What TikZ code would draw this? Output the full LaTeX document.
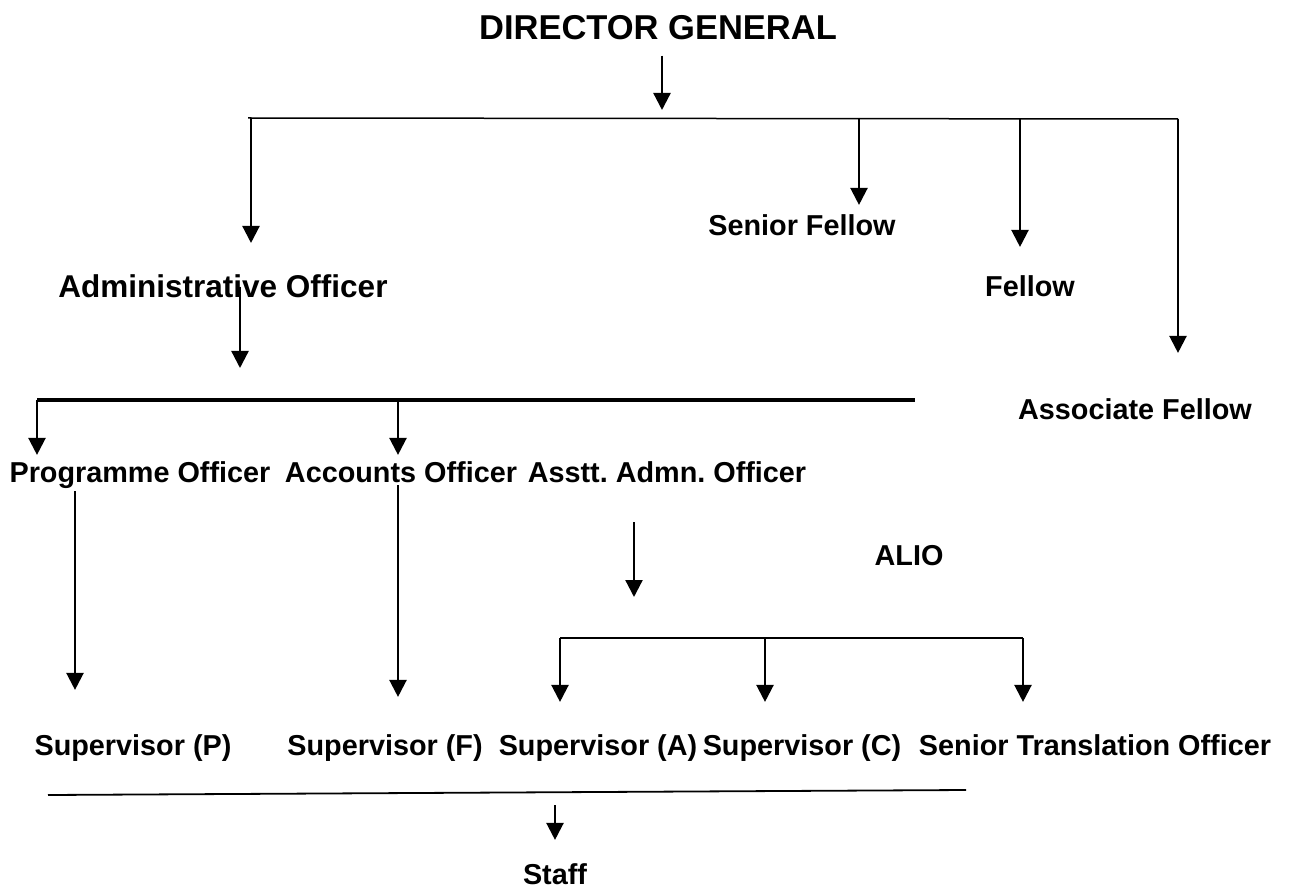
\documentclass[tikz,border=0pt]{standalone}
\usepackage{fontspec}
\setmainfont{Liberation Sans}
\usetikzlibrary{positioning,arrows.meta}
\frenchspacing

\begin{document}
\begin{tikzpicture}[
  x=1pt, y=-1pt,
  >={Triangle[width=17pt,length=17pt]},
  post/.style={font=\fontsize{28.8}{34}\selectfont\bfseries, inner sep=0pt, anchor=base},
  head/.style={font=\fontsize{34.5}{40}\selectfont\bfseries, inner sep=0pt, anchor=base},
  arr/.style={->, line width=2.3pt},
  bus/.style={line width=1.5pt}
]
\useasboundingbox (0,0) rectangle (1301,890);

\node[head] (dg) at (658,40) {DIRECTOR GENERAL};
\node[post, font=\fontsize{31.5}{36}\selectfont\bfseries] (adm) at (223,298) {Administrative Officer};
\node[post] (sf) at (802,236) {Senior Fellow};
\node[post] (fel) at (1030,297) {Fellow};
\node[post] (af) at (1135,420) {Associate Fellow};

\node[post] (prog) at (140,482) {Programme Officer};
\node[post] (acc) at (401,482) {Accounts Officer};
\node[post] (asst) at (667,482) {Asstt. Admn. Officer};
\node[post] (alio) at (909,565) {ALIO};

\node[post] (supp) at (133,755) {Supervisor (P)};
\node[post] (supf) at (385,755) {Supervisor (F)};
\node[post] (supa) at (598,755) {Supervisor (A)};
\node[post] (supc) at (802,755) {Supervisor (C)};
\node[post] (sto) at (1095,755) {Senior Translation Officer};
\node[post] (staff) at (555,884) {Staff};

% bus lines
\coordinate (t0) at (662,118);
\coordinate (t1) at (251,118);
\coordinate (t2) at (859,118);
\coordinate (t3) at (1020,119);
\coordinate (t4) at (1178,119);
\coordinate (a0) at (240,400);
\coordinate (a1) at (37,400);
\coordinate (a2) at (398,400);
\coordinate (s0) at (634,638);
\coordinate (s1) at (560,638);
\coordinate (s2) at (765,638);
\coordinate (s3) at (1023,638);
\coordinate (f0) at (555,793);

\draw[bus] (248,118) -- (t4);
\draw[line width=3.5pt] (a1) -- (915,400);
\draw[bus] (s1) -- (s3);
\draw[line width=1.8pt] (48,795) -- (966,790);

% top level
\draw[arr, shorten <=15pt, shorten >=8pt] (dg.south -| t0) -- (t0);
\draw[arr, shorten >=32pt] (t1) -- (adm.north -| t1);
\draw[arr, shorten >=10pt] (t2) -- (sf.north -| t2);
\draw[arr, shorten >=29pt] (t3) -- (fel.north -| t3);
\draw[arr, shorten >=46pt] (t4) -- (af.north -| t4);

% administration
\draw[arr, shorten >=32pt] (adm.center -| a0) -- (a0);
\draw[arr, shorten >=6pt] (a1) -- (prog.north -| a1);
\draw[arr, shorten >=6pt] (a2) -- (acc.north -| a2);
\draw[arr, shorten <=3pt, shorten >=44pt] (prog.south -| 75,0) -- (supp.north -| 75,0);
\draw[arr, shorten <=3pt, shorten >=37pt] (acc.south -| a2) -- (supf.north -| a2);
\draw[arr, shorten <=40pt, shorten >=41pt] (asst.south -| s0) -- (s0);
\draw[arr, shorten >=32pt] (s1) -- (supa.north -| s1);
\draw[arr, shorten >=32pt] (s2) -- (supc.north -| s2);
\draw[arr, shorten >=32pt] (s3) -- (sto.north -| s3);
\draw[arr, shorten <=12pt, shorten >=23pt] (f0) -- (staff.north -| f0);
\end{tikzpicture}
\end{document}
